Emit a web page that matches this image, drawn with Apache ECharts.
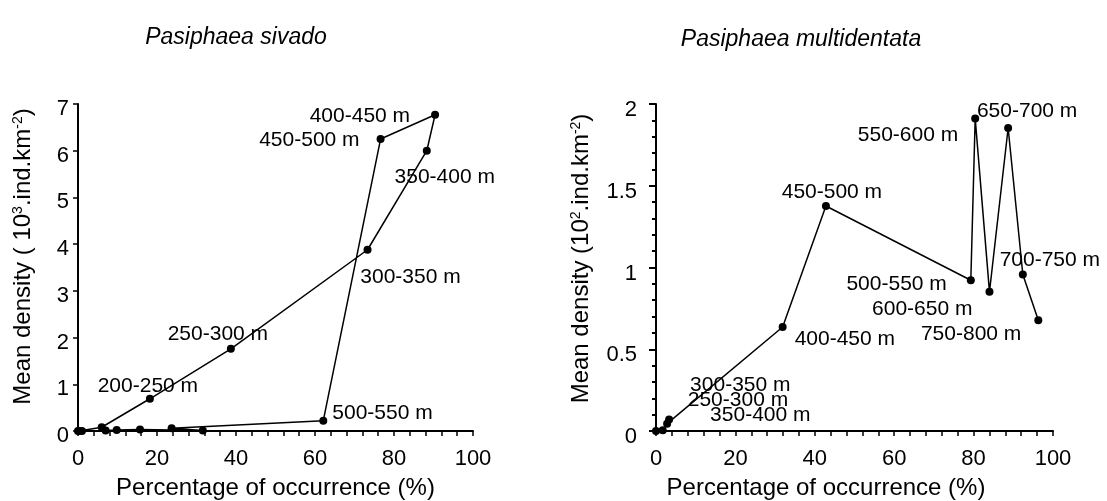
<!DOCTYPE html>
<html>
<head>
<meta charset="utf-8">
<script src="https://cdn.jsdelivr.net/npm/echarts@6/dist/echarts.min.js"></script>
<style>
html,body{margin:0;padding:0;background:#fff;}
#chart{width:1107px;height:501px;}
</style>
</head>
<body>
<div id="chart"></div>
<script>
// ---- Data: Pasiphaea sivado ----
var sivadoDepths = ['0-50 m','50-100 m','100-150 m','150-200 m','200-250 m','250-300 m','300-350 m','350-400 m','400-450 m','450-500 m','500-550 m','550-600 m','600-650 m','650-700 m','700-750 m','750-800 m'];
var sivadoOcc = [0, 1, 0.3, 6, 18.2, 38.7, 73.3, 88.3, 90.4, 76.6, 62.1, 23.7, 31.6, 15.7, 9.8, 7];
var sivadoDen = [0, 0, 0, 0.08, 0.69, 1.76, 3.88, 6.0, 6.77, 6.25, 0.22, 0.06, 0.01, 0.03, 0.02, 0.01];
var sivadoLabelled = ['200-250 m','250-300 m','300-350 m','350-400 m','400-450 m','450-500 m','500-550 m'];

// ---- Data: Pasiphaea multidentata ----
var multiDepths = ['200-250 m','250-300 m','300-350 m','350-400 m','400-450 m','450-500 m','500-550 m','550-600 m','600-650 m','650-700 m','700-750 m','750-800 m'];
var multiOcc = [0, 1.7, 3.3, 2.8, 31.9, 42.8, 79.3, 80.4, 84.0, 88.7, 92.4, 96.3];
var multiDen = [0, 0.005, 0.07, 0.045, 0.636, 1.376, 0.922, 1.912, 0.851, 1.853, 0.957, 0.677];
var multiLabelled = ['250-300 m','300-350 m','350-400 m','400-450 m','450-500 m','500-550 m','550-600 m','600-650 m','650-700 m','700-750 m','750-800 m'];

// ---- Tick settings ----
var xTicks = {min: 0, max: 100, interval: 20};
var ySivado = {min: 0, max: 7, interval: 1};
var yMulti = {min: 0, max: 2, interval: 0.5};

// ---- Label placement (style only) ----
var placeSivado = {
  '200-250 m': {position: 'top', offset: [-2, 7]},
  '250-300 m': {position: 'top', offset: [-13, 5]},
  '300-350 m': {position: 'bottom', offset: [43, 8]},
  '350-400 m': {position: 'bottom', offset: [18, 7]},
  '400-450 m': {position: 'left', offset: [-16, 1]},
  '450-500 m': {position: 'left', offset: [-12, 1]},
  '500-550 m': {position: 'right', offset: [0, -8]}
};
var placeMulti = {
  '250-300 m': {position: 'right', offset: [16, -30]},
  '300-350 m': {position: 'right', offset: [12, -34]},
  '350-400 m': {position: 'right', offset: [34, -8]},
  '400-450 m': {position: 'right', offset: [3, 12]},
  '450-500 m': {position: 'top', offset: [6, 6]},
  '500-550 m': {position: 'left', offset: [-15, 4]},
  '550-600 m': {position: 'left', offset: [-8, 17]},
  '600-650 m': {position: 'left', offset: [-8, 17]},
  '650-700 m': {position: 'top', offset: [19, 3]},
  '700-750 m': {position: 'top', offset: [27, 5]},
  '750-800 m': {position: 'left', offset: [-8, 14]}
};

var FONT = '"Liberation Sans", Arial, sans-serif';

function buildData(depths, occ, den, labelled, place) {
  return depths.map(function (d, i) {
    var item = {name: d, value: [occ[i], den[i]]};
    if (labelled.indexOf(d) >= 0) {
      item.label = {show: true, position: place[d].position, distance: 5};
    } else {
      item.label = {show: false};
    }
    return item;
  });
}

function makeLayout(depths, place) {
  return function (params) {
    var p = place[depths[params.dataIndex]];
    if (!p) return {};
    return {dx: p.offset[0], dy: p.offset[1], hideOverlap: false};
  };
}

function xAxisCfg(gridIndex, padRight) {
  return {
    type: 'value', gridIndex: gridIndex,
    min: xTicks.min, max: xTicks.max, interval: xTicks.interval,
    name: 'Percentage of occurrence (%)', nameLocation: 'middle', nameGap: 45,
    nameTextStyle: {fontSize: 24, color: '#000', fontFamily: FONT, padding: [0, padRight, 0, 0]},
    axisLine: {show: true, onZero: false, lineStyle: {color: '#000', width: 2}},
    axisTick: {show: true, inside: false, length: 5, lineStyle: {color: '#000', width: 1.5}},
    minorTick: {show: true, splitNumber: 5, length: 5, lineStyle: {color: '#000', width: 1.5}},
    axisLabel: {fontSize: 22, color: '#000', fontFamily: FONT, margin: 17},
    splitLine: {show: false}, minorSplitLine: {show: false}
  };
}

var lineStyle = {color: '#000', width: 1.5};
var itemStyle = {color: '#000'};
var labelStyle = {fontSize: 21, color: '#000', fontFamily: FONT, formatter: '{b}'};

var option = {
  animation: false,
  backgroundColor: '#fff',
  graphic: [
    {type: 'text', x: 236, y: 38, style: {text: 'Pasiphaea sivado', fontSize: 23, fontStyle: 'italic', fontFamily: FONT, fill: '#000', align: 'center', verticalAlign: 'middle'}},
    {type: 'text', x: 801, y: 40, style: {text: 'Pasiphaea multidentata', fontSize: 23, fontStyle: 'italic', fontFamily: FONT, fill: '#000', align: 'center', verticalAlign: 'middle'}}
  ],
  grid: [
    {left: 78, top: 104, width: 395, height: 327, containLabel: false, outerBoundsMode: 'none'},
    {left: 656, top: 104, width: 397, height: 327, containLabel: false, outerBoundsMode: 'none'}
  ],
  xAxis: [xAxisCfg(0, 0), xAxisCfg(1, 57)],
  yAxis: [
    {
      type: 'value', gridIndex: 0,
      min: ySivado.min, max: ySivado.max, interval: ySivado.interval,
      name: 'Mean density ( 10{s|3}.ind.km{s|-2})', nameLocation: 'middle', nameGap: 43,
      nameTextStyle: {fontSize: 24, color: '#000', fontFamily: FONT, padding: [0, 0, 0, 22],
        rich: {s: {fontSize: 14, verticalAlign: 'top', color: '#000', fontFamily: FONT}}},
      axisLine: {show: true, onZero: false, lineStyle: {color: '#000', width: 2}},
      axisTick: {show: true, inside: false, length: 5, lineStyle: {color: '#000', width: 1.5}},
      axisLabel: {fontSize: 22, color: '#000', fontFamily: FONT, margin: 9, verticalAlign: 'top', lineHeight: 10},
      splitLine: {show: false}
    },
    {
      type: 'value', gridIndex: 1,
      min: yMulti.min, max: yMulti.max, interval: yMulti.interval,
      name: 'Mean density (10{s|2}.ind.km{s|-2})', nameLocation: 'middle', nameGap: 63,
      nameTextStyle: {fontSize: 24, color: '#000', fontFamily: FONT, padding: [0, 0, 0, 18],
        rich: {s: {fontSize: 14, verticalAlign: 'top', color: '#000', fontFamily: FONT}}},
      axisLine: {show: true, onZero: false, lineStyle: {color: '#000', width: 2}},
      axisTick: {show: true, inside: false, length: 7, lineStyle: {color: '#000', width: 2}},
      minorTick: {show: true, splitNumber: 5, length: 4, lineStyle: {color: '#000', width: 2}},
      axisLabel: {fontSize: 22, color: '#000', fontFamily: FONT, margin: 19, verticalAlign: 'top', lineHeight: 12},
      splitLine: {show: false}, minorSplitLine: {show: false}
    }
  ],
  series: [
    {
      type: 'line', xAxisIndex: 0, yAxisIndex: 0,
      data: buildData(sivadoDepths, sivadoOcc, sivadoDen, sivadoLabelled, placeSivado),
      symbol: 'circle', symbolSize: 8, showAllSymbol: true,
      lineStyle: lineStyle, itemStyle: itemStyle, label: labelStyle,
      labelLayout: makeLayout(sivadoDepths, placeSivado)
    },
    {
      type: 'line', xAxisIndex: 1, yAxisIndex: 1,
      data: buildData(multiDepths, multiOcc, multiDen, multiLabelled, placeMulti),
      symbol: 'circle', symbolSize: 8, showAllSymbol: true,
      lineStyle: lineStyle, itemStyle: itemStyle, label: labelStyle,
      labelLayout: makeLayout(multiDepths, placeMulti)
    }
  ]
};

var chart = echarts.init(document.getElementById('chart'), null, {renderer: 'canvas'});
chart.setOption(option);
</script>
</body>
</html>
